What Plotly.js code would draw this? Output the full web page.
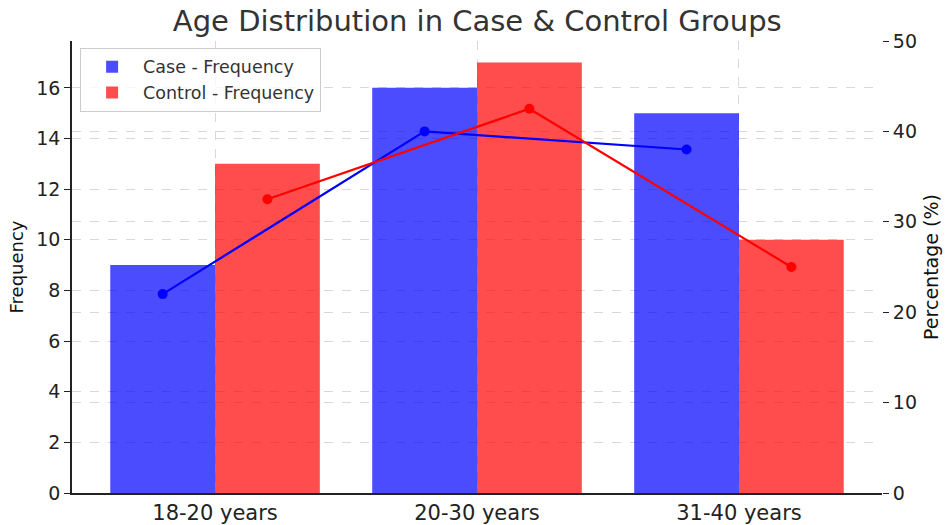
<!DOCTYPE html>
<html>
<head>
<meta charset="utf-8">
<script src="https://cdn.plot.ly/plotly-3.0.1.min.js"></script>
<style>html,body{margin:0;padding:0;background:#fff;}#chart{width:947px;height:525px;}</style>
</head>
<body>
<div id="chart"></div>
<script>
const categories = ["18-20 years", "20-30 years", "31-40 years"];
const caseFreq = [9, 16, 15];
const controlFreq = [13, 17, 10];
const casePct = [22, 40, 38];
const controlPct = [32.5, 42.5, 25];

const idx = categories.map((c, i) => i);
const off = 0.2;
const font = "DejaVu Sans, sans-serif";

const traces = [
  {type: "bar", name: "Case - Frequency", x: idx.map(i => i - off), y: caseFreq, width: 0.4,
   marker: {color: "rgba(0,0,255,0.7)"}, hoverinfo: "y"},
  {type: "bar", name: "Control - Frequency", x: idx.map(i => i + off), y: controlFreq, width: 0.4,
   marker: {color: "rgba(255,0,0,0.7)"}, hoverinfo: "y"},
  {type: "scatter", mode: "lines+markers", name: "Case - Percentage", x: idx.map(i => i - off), y: casePct,
   yaxis: "y2", showlegend: false, line: {color: "#0000ff", width: 2.2}, marker: {color: "#0000ff", size: 10}},
  {type: "scatter", mode: "lines+markers", name: "Control - Percentage", x: idx.map(i => i + off), y: controlPct,
   yaxis: "y2", showlegend: false, line: {color: "#ff0000", width: 2.2}, marker: {color: "#ff0000", size: 10}}
];

const layout = {
  width: 947, height: 525,
  margin: {l: 72, r: 65, t: 41, b: 32},
  paper_bgcolor: "#fff", plot_bgcolor: "#fff",
  font: {family: font, color: "#222", size: 18},
  title: {text: "Age Distribution in Case & Control Groups", font: {family: font, size: 29, color: "#333"},
          x: 0.504, xanchor: "center", y: 0.96, yanchor: "middle"},
  barmode: "overlay",
  showlegend: true,
  legend: {x: 0.01, y: 0.985, xanchor: "left", yanchor: "top", bgcolor: "rgba(255,255,255,0.8)",
           bordercolor: "#ccc", borderwidth: 1, itemwidth: 52, font: {family: font, size: 17.5, color: "#333"}},
  xaxis: {range: [-0.546, 2.546], tickmode: "array", tickvals: idx, ticktext: categories,
          showline: true, linecolor: "#222", linewidth: 1.5, ticks: "", zeroline: false,
          showgrid: true, gridcolor: "#d8d8d8", griddash: "dash", gridwidth: 1,
          tickfont: {family: font, size: 21, color: "#222"}},
  yaxis: {range: [0, 17.85], dtick: 2, tick0: 0, showline: true, linecolor: "#222", linewidth: 1.5,
          ticks: "outside", ticklen: 6, tickcolor: "#222", zeroline: false,
          showgrid: true, gridcolor: "#d8d8d8", griddash: "dash", gridwidth: 1,
          title: {text: "Frequency", font: {family: font, size: 18, color: "#111"}, standoff: 8},
          tickfont: {family: font, size: 19, color: "#222"}},
  yaxis2: {overlaying: "y", side: "right", range: [0, 50], dtick: 10, tick0: 0, showline: false,
           ticks: "outside", ticklen: 6, tickcolor: "#222", zeroline: false,
           showgrid: true, gridcolor: "#d8d8d8", griddash: "dash", gridwidth: 1,
           title: {text: "Percentage (%)", font: {family: font, size: 19, color: "#111"}, standoff: 8},
           tickfont: {family: font, size: 19, color: "#222"}}
};

Plotly.newPlot("chart", traces, layout, {displayModeBar: false});
</script>
</body>
</html>
